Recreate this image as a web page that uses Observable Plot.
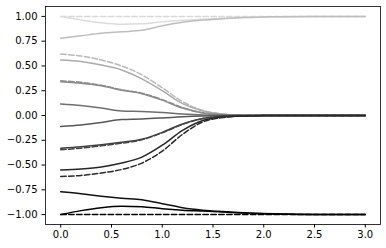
<!DOCTYPE html>
<html>
<head>
<meta charset="utf-8">
<script src="https://cdn.jsdelivr.net/npm/d3@7"></script>
<script src="https://cdn.jsdelivr.net/npm/@observablehq/plot@0.6"></script>
<style>
  html, body { margin: 0; padding: 0; background: #fff; }
  #chart svg { display: block; }
</style>
</head>
<body>
<div id="chart"></div>
<script>
const xs = [0, 0.2, 0.4, 0.6, 0.8, 1.0, 1.2, 1.4, 1.6, 1.8, 2.0, 2.2, 2.5, 3.0];

const dashTop   = [1, 1, 1, 1, 1, 1, 1, 1, 1, 1, 1, 1, 1, 1];
const solidTop  = [1.0, 0.965, 0.935, 0.92, 0.925, 0.945, 0.96, 0.972, 0.982, 0.99, 0.995, 0.998, 1.0, 1.0];
const solid078  = [0.78, 0.805, 0.83, 0.845, 0.86, 0.905, 0.94, 0.963, 0.977, 0.988, 0.994, 0.997, 1.0, 1.0];
const dash062   = [0.62, 0.60, 0.56, 0.50, 0.41, 0.28, 0.14, 0.05, 0.015, 0.004, 0.001, 0, 0, 0];
const solid056  = [0.56, 0.545, 0.51, 0.46, 0.37, 0.25, 0.12, 0.045, 0.013, 0.004, 0.001, 0, 0, 0];
const dash035   = [0.35, 0.335, 0.305, 0.26, 0.225, 0.16, 0.08, 0.027, 0.008, 0.002, 0, 0, 0, 0];
const solid034  = [0.34, 0.325, 0.30, 0.255, 0.22, 0.155, 0.075, 0.025, 0.007, 0.002, 0, 0, 0, 0];
const solid011  = [0.115, 0.10, 0.075, 0.045, 0.04, 0.03, 0.015, 0.005, 0.001, 0, 0, 0, 0, 0];
const solidm011 = [-0.11, -0.095, -0.07, -0.04, -0.035, -0.025, -0.013, -0.005, -0.001, 0, 0, 0, 0, 0];
const solidm033 = [-0.33, -0.315, -0.295, -0.27, -0.24, -0.17, -0.085, -0.03, -0.008, -0.002, 0, 0, 0, 0];
const dashm034  = [-0.345, -0.33, -0.305, -0.28, -0.245, -0.175, -0.09, -0.03, -0.008, -0.002, 0, 0, 0, 0];
const solidm056 = [-0.55, -0.54, -0.52, -0.48, -0.42, -0.30, -0.15, -0.05, -0.015, -0.004, -0.001, 0, 0, 0];
const dashm062  = [-0.615, -0.605, -0.58, -0.545, -0.48, -0.36, -0.19, -0.065, -0.02, -0.005, -0.001, 0, 0, 0];
const solidm077 = [-0.77, -0.79, -0.815, -0.835, -0.85, -0.89, -0.93, -0.955, -0.97, -0.982, -0.99, -0.995, -0.999, -1.0];
const solidBot  = [-1.0, -0.96, -0.93, -0.915, -0.92, -0.94, -0.955, -0.965, -0.975, -0.985, -0.992, -0.996, -1.0, -1.0];
const dashBot   = [-1, -1, -1, -1, -1, -1, -1, -1, -1, -1, -1, -1, -1, -1];

const series = [
  {name: "dashTop",   values: dashTop,   color: "#d8d8d8", dashed: true},
  {name: "solidTop",  values: solidTop,  color: "#dcdcdc", dashed: false},
  {name: "solid078",  values: solid078,  color: "#bdbdbd", dashed: false},
  {name: "dash062",   values: dash062,   color: "#b8b8b8", dashed: true},
  {name: "solid056",  values: solid056,  color: "#ababab", dashed: false},
  {name: "dash035",   values: dash035,   color: "#8e8e8e", dashed: true},
  {name: "solid034",  values: solid034,  color: "#8a8a8a", dashed: false},
  {name: "solid011",  values: solid011,  color: "#6e6e6e", dashed: false},
  {name: "solidm011", values: solidm011, color: "#575757", dashed: false},
  {name: "solidm033", values: solidm033, color: "#404040", dashed: false},
  {name: "dashm034",  values: dashm034,  color: "#444444", dashed: true},
  {name: "solidm056", values: solidm056, color: "#262626", dashed: false},
  {name: "dashm062",  values: dashm062,  color: "#2a2a2a", dashed: true},
  {name: "solidm077", values: solidm077, color: "#111111", dashed: false},
  {name: "solidBot",  values: solidBot,  color: "#000000", dashed: false},
  {name: "dashBot",   values: dashBot,   color: "#000000", dashed: true}
];

const xTicks = [0, 0.5, 1.0, 1.5, 2.0, 2.5, 3.0];
const yTicks = [-1.0, -0.75, -0.5, -0.25, 0, 0.25, 0.5, 0.75, 1.0];

const lineMarks = series.map(s =>
  Plot.line(xs.map((x, i) => ({x, y: s.values[i]})), {
    x: "x", y: "y",
    stroke: s.color,
    strokeWidth: 1.5,
    strokeDasharray: s.dashed ? "5.5,2.4" : null,
    curve: "monotone-x"
  })
);

const chart = Plot.plot({
  width: 386,
  height: 248,
  marginLeft: 45,
  marginRight: 6,
  marginTop: 6,
  marginBottom: 24,
  style: {fontFamily: "DejaVu Sans", fontSize: "10px", background: "#fff", color: "#000"},
  x: {domain: [-0.15, 3.15]},
  y: {domain: [-1.1, 1.1]},
  marks: [
    ...lineMarks,
    Plot.frame({stroke: "#000", strokeWidth: 0.8}),
    Plot.axisX({ticks: xTicks, tickSize: 3.5, tickPadding: 3, tickFormat: d3.format(".1f"), label: null, fontSize: 10}),
    Plot.axisY({ticks: yTicks, tickSize: 3.5, tickPadding: 4.5, tickFormat: d3.format(".2f"), label: null, fontSize: 10})
  ]
});

document.getElementById("chart").appendChild(chart);
</script>
</body>
</html>
